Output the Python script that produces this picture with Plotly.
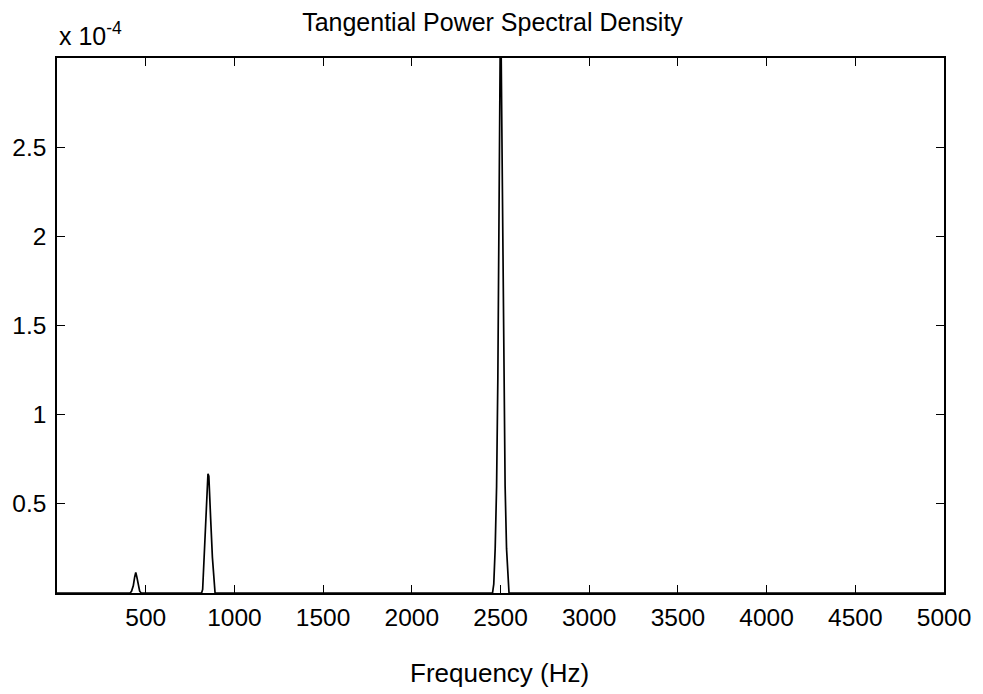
import plotly.graph_objects as go

# Frequency (Hz) and PSD values (x 1e-4)
freq = [0, 412, 420, 430, 438, 444, 450, 458, 466, 475,
        815, 821, 830, 840, 848, 851, 856, 859, 866, 876, 886, 891,
        2455, 2462, 2470, 2478, 2485, 2492, 2497, 2500, 2504, 2510, 2518, 2526, 2534, 2542, 2548,
        5000]
psd_e4 = [0, 0, 0.01, 0.04, 0.09, 0.115, 0.09, 0.04, 0.01, 0,
          0, 0.02, 0.2, 0.42, 0.62, 0.668, 0.655, 0.6, 0.42, 0.2, 0.03, 0,
          0, 0.05, 0.25, 0.6, 1.2, 2.3, 3.0, 3.3, 3.0, 2.2, 1.2, 0.6, 0.25, 0.05, 0,
          0]
psd = [v * 1e-4 for v in psd_e4]

x_ticks = [500, 1000, 1500, 2000, 2500, 3000, 3500, 4000, 4500, 5000]
y_ticks = [0.5e-4, 1e-4, 1.5e-4, 2e-4, 2.5e-4]
y_ticktext = ["0.5", "1", "1.5", "2", "2.5"]

FONT = "Liberation Sans, Arial, Helvetica, sans-serif"

fig = go.Figure()
fig.add_trace(go.Scatter(x=freq, y=psd, mode="lines",
                         line=dict(color="black", width=1.7),
                         showlegend=False, hoverinfo="skip"))

axis_common = dict(showline=True, linecolor="black", linewidth=1.5,
                   mirror="ticks", ticks="inside", ticklen=8, tickwidth=1.2,
                   tickcolor="black", showgrid=False, zeroline=False,
                   tickfont=dict(family=FONT, size=24.5, color="black"))

fig.update_layout(
    width=983, height=694,
    margin=dict(l=57, r=39, t=58, b=101),
    paper_bgcolor="white", plot_bgcolor="white",
    title=dict(text="Tangential Power Spectral Density",
               font=dict(family=FONT, size=25, color="black"),
               x=492.5 / 983, xanchor="center", xref="container",
               y=1 - 22 / 694, yanchor="middle", yref="container"),
    xaxis=dict(range=[0, 5000], tickvals=x_ticks,
               ticklabelstandoff=2, **axis_common),
    yaxis=dict(range=[0, 3e-4], tickvals=y_ticks, ticktext=y_ticktext,
               ticklabelstandoff=4, **axis_common),
)

fig.add_annotation(text="Frequency (Hz)", xref="paper", yref="paper",
                   x=(499 - 57) / 887, y=(593 - 673) / 535,
                   xanchor="center", yanchor="middle", showarrow=False,
                   font=dict(family=FONT, size=26, color="black"))
fig.add_annotation(text="x 10<sup>-4</sup>", xref="paper", yref="paper",
                   x=0, y=1 + 6 / 535, xanchor="left", yanchor="bottom",
                   showarrow=False,
                   font=dict(family=FONT, size=25, color="black"))

fig.write_html("out.html")
